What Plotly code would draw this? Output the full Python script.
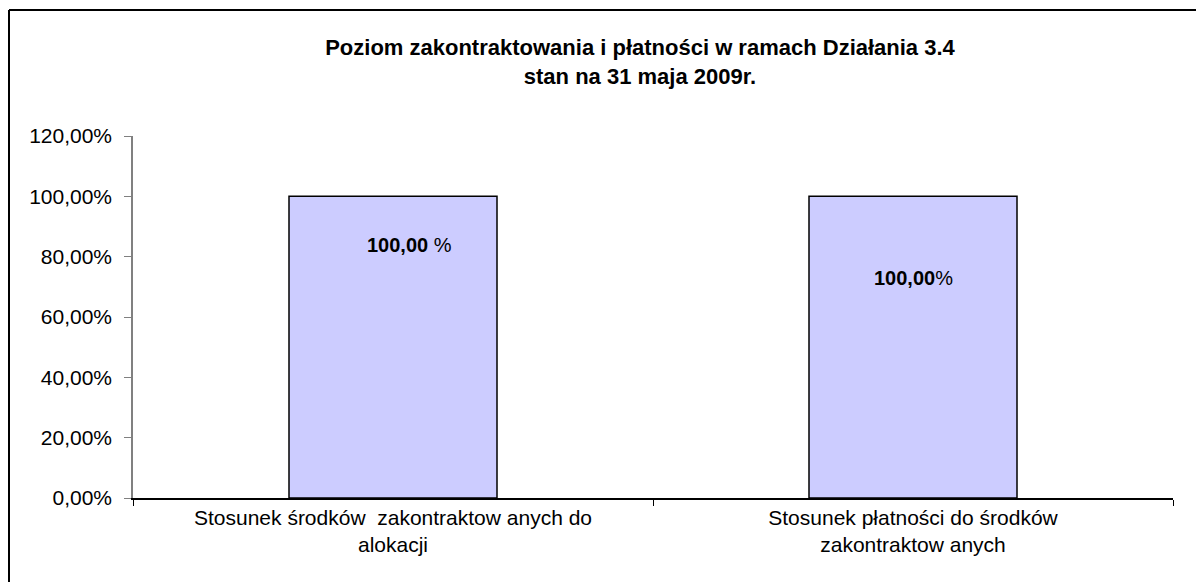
import plotly.graph_objects as go

categories = [
    "Stosunek środków  zakontraktow anych do<br>alokacji",
    "Stosunek płatności do środków<br>zakontraktow anych",
]
values = [1.0, 1.0]
bar_labels = ["<b>100,00</b> %", "<b>100,00</b>%"]
title_text = "<b>Poziom zakontraktowania i płatności w ramach Działania 3.4<br>stan na 31 maja 2009r.</b>"

FONT = "Liberation Sans, Arial, sans-serif"

fig = go.Figure()
fig.add_trace(go.Bar(
    x=categories, y=values,
    marker=dict(color="#CCCCFF", line=dict(color="#000000", width=1.5)),
    hoverinfo="skip",
))

# label placement inside bars (style/position only)
label_pos = [(0.838, 16), (0.729, 0)]
for cat, txt, (yy, xs) in zip(categories, bar_labels, label_pos):
    fig.add_annotation(x=cat, y=yy, text=txt, showarrow=False, xshift=xs,
                       font=dict(family=FONT, size=20, color="#000000"))

W, H = 1196, 582
ml, mr, mt, mb = 133, 23, 136, 84
pw, ph = W - ml - mr, H - mt - mb
def px_x(p):
    return (p - ml) / pw
def px_y(p):
    return (H - mb - p) / ph

# outer frame (top and left edges visible)
fig.add_shape(type="line", xref="paper", yref="paper",
              x0=px_x(9), x1=px_x(1200), y0=px_y(10), y1=px_y(10),
              line=dict(color="#000000", width=2))
fig.add_shape(type="line", xref="paper", yref="paper",
              x0=px_x(9), x1=px_x(9), y0=px_y(10), y1=px_y(590),
              line=dict(color="#000000", width=2))

fig.update_layout(
    width=W, height=H,
    margin=dict(l=ml, r=mr, t=mt, b=mb),
    paper_bgcolor="#FFFFFF", plot_bgcolor="#FFFFFF",
    separators=",.",
    bargap=0.6,
    showlegend=False,
    font=dict(family=FONT, color="#000000"),
    title=dict(text=title_text, x=640 / W, xref="container", xanchor="center",
               y=1 - 55 / H, yref="container", yanchor="middle",
               font=dict(family=FONT, size=22, color="#000000")),
)
fig.update_yaxes(
    range=[0, 1.2], dtick=0.2, tickformat=".2%",
    showgrid=False, zeroline=False,
    showline=True, linecolor="#808080", linewidth=1.5,
    ticks="outside", ticklen=7, tickcolor="#808080",
    ticklabelstandoff=8,
    tickfont=dict(family=FONT, size=21, color="#000000"),
)
fig.update_xaxes(
    showgrid=False, showline=True, linecolor="#000000", linewidth=1.5,
    ticks="outside", ticklen=6, tickcolor="#000000", tickson="boundaries",
    tickfont=dict(family=FONT, size=21, color="#000000"),
)

fig.write_html(
    "out.html",
    config={"displayModeBar": False},
    post_script="document.body.style.margin='0';document.body.style.overflow='hidden';",
)
